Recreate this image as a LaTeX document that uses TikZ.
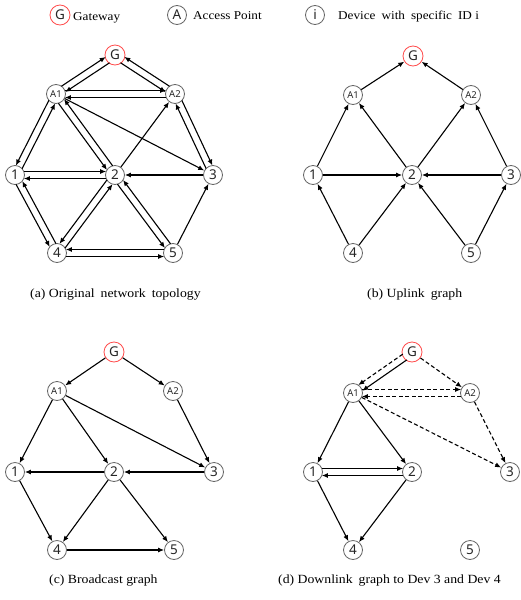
\documentclass[tikz,border=0pt]{standalone}
\usepackage{fontspec}
\setmainfont{Liberation Serif}
\newfontfamily\nodefont{Noto Sans}
\newfontfamily\capfont[FakeStretch=1.1]{Liberation Serif}
\usetikzlibrary{arrows.meta,calc}

\tikzset{
  dev/.style={circle, draw=black!60, line width=0.8pt, fill=white,
    minimum size=19pt, inner sep=0pt, text=black!85,
    font=\nodefont\fontsize{13.5}{14}\selectfont},
  ap/.style={dev, font=\nodefont\fontsize{9.5}{10}\selectfont},
  gw/.style={dev, draw=red!70, minimum size=20pt},
  arr/.style={line width=1.1pt, -{Latex[length=6pt,width=5pt]}},
  darr/.style={arr, dash pattern=on 4pt off 2.5pt},
  legtext/.style={anchor=base west, inner sep=0pt,
    font=\capfont\fontsize{12}{14}\selectfont},
  captext/.style={anchor=base west, inner sep=0pt,
    font=\capfont\fontsize{12.5}{14}\selectfont},
}

% one arrow from #2 to #3, moved 3.5pt to the left (L) or right (R) of its direction
\newcommand\edgeL[3][]{%
  \draw[arr,#1,shorten <=8.8pt,shorten >=8.8pt]
    ($(#2)!3.5pt!90:(#3)$) -- ($(#3)!3.5pt!-90:(#2)$);}
\newcommand\edgeR[3][]{%
  \draw[arr,#1,shorten <=8.8pt,shorten >=8.8pt]
    ($(#2)!3.5pt!-90:(#3)$) -- ($(#3)!3.5pt!90:(#2)$);}
% a pair of opposite arrows, each kept on the same side of its own direction
\newcommand\twowayL[3][]{\edgeL[#1]{#2}{#3}\edgeL[#1]{#3}{#2}}
\newcommand\twowayR[3][]{\edgeR[#1]{#2}{#3}\edgeR[#1]{#3}{#2}}

\begin{document}
\begin{tikzpicture}[x=1pt,y=-1pt]
\useasboundingbox (0,0) rectangle (520,600);

% ---------- legend ----------
\node[gw] (lG) at (60,15) {G};
\node[legtext] (lGt) at (73,20) {Gateway};
\node[dev] (lA) at (177,15) {A};
\node[legtext] (lAt) at (193,19.5) {Access Point};
\node[dev] (lI) at (315,15) {i};
\node[legtext] (lIt) at (338,19.5) {Device\hspace{6pt}with\hspace{6pt}specific\hspace{6pt}ID i};

% ---------- (a) original network topology ----------
\node[gw] (aG) at (115,55) {G};
\node[ap] (aA1) at (56,94) {A1};
\node[ap] (aA2) at (175,94) {A2};
\node[dev] (a1) at (15,175) {1};
\node[dev] (a2) at (115,175) {2};
\node[dev] (a3) at (213,175) {3};
\node[dev] (a4) at (57,253) {4};
\node[dev] (a5) at (173,253) {5};

\twowayL{aA1}{aG}
\twowayR{aG}{aA2}
\twowayL{aA1}{aA2}
\twowayR{aA1}{a1}
\twowayR{aA1}{a2}
\twowayL{aA2}{a3}
\twowayL{a1}{a2}
\twowayR{a1}{a4}
\twowayR{a2}{a4}
\twowayR{a2}{a5}
\twowayR{a4}{a5}
\draw[arr] (aA1) -- (a3);
\draw[arr] (a2) -- (aA2);
\draw[arr] (a3) -- (a2);
\draw[arr] (a5) -- (a3);

\node[captext] (capa) at (30,297.5) {(a) Original\hspace{6pt}network\hspace{6pt}topology};

% ---------- (b) uplink graph ----------
\node[gw] (bG) at (413,56) {G};
\node[ap] (bA1) at (353,95) {A1};
\node[ap] (bA2) at (471,95) {A2};
\node[dev] (b1) at (313,175) {1};
\node[dev] (b2) at (412,175) {2};
\node[dev] (b3) at (511,175) {3};
\node[dev] (b4) at (353,253) {4};
\node[dev] (b5) at (471,253) {5};

\draw[arr] (bA1) -- (bG);
\draw[arr] (bA2) -- (bG);
\draw[arr] (b1) -- (bA1);
\draw[arr] (b2) -- (bA1);
\draw[arr] (b2) -- (bA2);
\draw[arr] (b3) -- (bA2);
\draw[arr] (b1) -- (b2);
\draw[arr] (b3) -- (b2);
\draw[arr] (b4) -- (b1);
\draw[arr] (b4) -- (b2);
\draw[arr] (b5) -- (b2);
\draw[arr] (b5) -- (b3);

\node[captext] (capb) at (367,297.5) {(b) Uplink\hspace{6pt}graph};

% ---------- (c) broadcast graph ----------
\node[gw] (cG) at (114,352) {G};
\node[ap] (cA1) at (57,391) {A1};
\node[ap] (cA2) at (173,391) {A2};
\node[dev] (c1) at (15,472) {1};
\node[dev] (c2) at (114,472) {2};
\node[dev] (c3) at (214,472) {3};
\node[dev] (c4) at (57,550) {4};
\node[dev] (c5) at (174,550) {5};

\draw[arr] (cG) -- (cA1);
\draw[arr] (cG) -- (cA2);
\draw[arr] (cA1) -- (c1);
\draw[arr] (cA1) -- (c2);
\draw[arr] (cA1) -- (c3);
\draw[arr] (cA2) -- (c3);
\draw[arr] (c2) -- (c1);
\draw[arr] (c3) -- (c2);
\draw[arr] (c1) -- (c4);
\draw[arr] (c2) -- (c4);
\draw[arr] (c2) -- (c5);
\draw[arr] (c4) -- (c5);

\node[captext] (capc) at (49,583.5) {(c) Broadcast graph};

% ---------- (d) downlink graph to Dev 3 and Dev 4 ----------
\node[gw] (dG) at (412,352) {G};
\node[ap] (dA1) at (353,393) {A1};
\node[ap] (dA2) at (470,393) {A2};
\node[dev] (d1) at (313,472) {1};
\node[dev] (d2) at (412,472) {2};
\node[dev] (d3) at (510,472) {3};
\node[dev] (d4) at (353,550) {4};
\node[dev] (d5) at (470,550) {5};

\edgeR[darr]{dG}{dA1}
\edgeL{dG}{dA1}
\draw[darr] (dG) -- (dA2);
\twowayL[darr]{dA1}{dA2}
\draw[darr] (dA1) -- (d3);
\draw[darr] (dA2) -- (d3);
\draw[arr] (dA1) -- (d1);
\draw[arr] (dA1) -- (d2);
\twowayL{d1}{d2}
\draw[arr] (d1) -- (d4);
\draw[arr] (d2) -- (d4);

\node[captext] (capd) at (278,583.5) {(d) Downlink\hspace{6pt}graph to Dev 3 and Dev 4};
\end{tikzpicture}
\end{document}
